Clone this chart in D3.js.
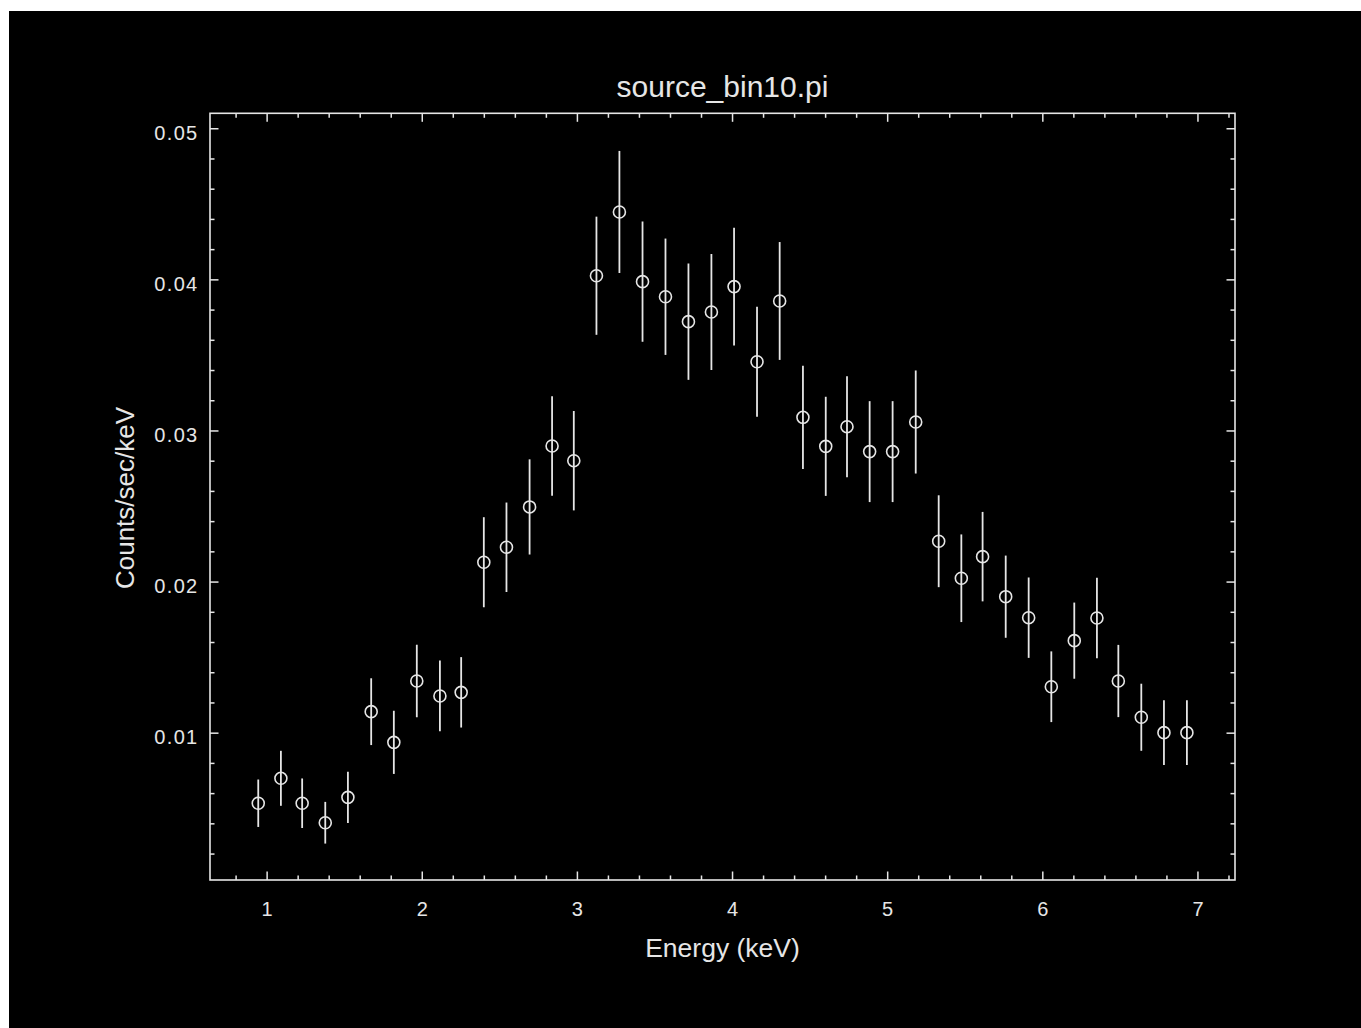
<!DOCTYPE html>
<html>
<head>
<meta charset="utf-8">
<script src="https://cdn.jsdelivr.net/npm/d3@7"></script>
<style>
  html, body { margin: 0; padding: 0; background: #ffffff; }
  svg { display: block; }
  text { font-family: "Liberation Sans", Arial, Helvetica, sans-serif; fill: #e6e6e6; }
</style>
</head>
<body>
<svg id="chart" width="1361" height="1028"></svg>
<script>
// ---- data ----
const titleText = "source_bin10.pi";
const xLabelText = "Energy (keV)";
const yLabelText = "Counts/sec/keV";

const energy = [0.946, 1.092, 1.229, 1.378, 1.524, 1.674, 1.820, 1.968, 2.117, 2.254,
                2.400, 2.546, 2.695, 2.840, 2.980, 3.126, 3.274, 3.423, 3.571, 3.719,
                3.867, 4.013, 4.161, 4.307, 4.457, 4.604, 4.741, 4.887, 5.035, 5.184,
                5.332, 5.478, 5.615, 5.764, 5.912, 6.058, 6.206, 6.352, 6.490, 6.638,
                6.784, 6.932];
const rate = [0.00533, 0.00698, 0.00533, 0.00404, 0.00572, 0.01139, 0.00936, 0.01342, 0.01243, 0.01267,
              0.02128, 0.02227, 0.02494, 0.02897, 0.02800, 0.04024, 0.04446, 0.03985, 0.03885, 0.03720,
              0.03784, 0.03952, 0.03455, 0.03857, 0.03087, 0.02895, 0.03025, 0.02860, 0.02860, 0.03056,
              0.02267, 0.02022, 0.02165, 0.01900, 0.01761, 0.01304, 0.01609, 0.01759, 0.01342, 0.01102,
              0.01000, 0.01000];
const rateErr = [0.00157, 0.00182, 0.00164, 0.00138, 0.00169, 0.00221, 0.00209, 0.00240, 0.00234, 0.00233,
                 0.00298, 0.00296, 0.00315, 0.00329, 0.00329, 0.00391, 0.00404, 0.00398, 0.00385, 0.00385,
                 0.00384, 0.00390, 0.00364, 0.00390, 0.00342, 0.00328, 0.00334, 0.00334, 0.00334, 0.00341,
                 0.00304, 0.00290, 0.00296, 0.00272, 0.00266, 0.00234, 0.00252, 0.00266, 0.00239, 0.00222,
                 0.00214, 0.00214];

const xDomain = [0.635, 7.242];
const yDomain = [0.00025, 0.05099];
const xMajorTicks = [1, 2, 3, 4, 5, 6, 7];
const xMinorStep = 0.2;
const yMajorTicks = [0.01, 0.02, 0.03, 0.04, 0.05];
const yMinorStep = 0.002;

// ---- layout ----
const W = 1361, H = 1028;
const frame = { left: 210, right: 1235, top: 113.3, bottom: 880 };
const fg = "#e6e6e6";

const svg = d3.select("#chart");
svg.append("rect").attr("x", 9).attr("y", 11).attr("width", W - 9).attr("height", H - 11).attr("fill", "#000");

const x = d3.scaleLinear().domain(xDomain).range([frame.left, frame.right]);
const y = d3.scaleLinear().domain(yDomain).range([frame.bottom, frame.top]);

const eps = 1e-9;
const xMinor = d3.range(Math.ceil(xDomain[0] / xMinorStep) * xMinorStep, xDomain[1] + eps, xMinorStep)
  .filter(v => xMajorTicks.every(m => Math.abs(m - v) > 1e-6));
const yMinor = d3.range(Math.ceil(yDomain[0] / yMinorStep) * yMinorStep, yDomain[1] + eps, yMinorStep)
  .filter(v => yMajorTicks.every(m => Math.abs(m - v) > 1e-7));

function styleAxis(g) {
  g.select(".domain").remove();
  g.selectAll(".tick line").attr("stroke", fg).attr("stroke-width", 1.5);
  g.selectAll(".tick text").attr("fill", fg).attr("font-family", "Liberation Sans, Arial, sans-serif");
}

const majLen = 8.5, minLen = 4.5;

// bottom
svg.append("g").attr("transform", `translate(0,${frame.bottom})`)
  .call(d3.axisBottom(x).tickValues(xMajorTicks).tickSize(-majLen).tickPadding(21.5).tickFormat(d3.format("d")))
  .call(styleAxis)
  .call(g => g.selectAll(".tick text").attr("font-size", 20));
svg.append("g").attr("transform", `translate(0,${frame.bottom})`)
  .call(d3.axisBottom(x).tickValues(xMinor).tickSize(-minLen).tickFormat(""))
  .call(styleAxis);
// top
svg.append("g").attr("transform", `translate(0,${frame.top})`)
  .call(d3.axisTop(x).tickValues(xMajorTicks).tickSize(-majLen).tickFormat(""))
  .call(styleAxis);
svg.append("g").attr("transform", `translate(0,${frame.top})`)
  .call(d3.axisTop(x).tickValues(xMinor).tickSize(-minLen).tickFormat(""))
  .call(styleAxis);
// left
svg.append("g").attr("transform", `translate(${frame.left},0)`)
  .call(d3.axisLeft(y).tickValues(yMajorTicks).tickSize(-majLen).tickPadding(11.5).tickFormat(d3.format(".2f")))
  .call(styleAxis)
  .call(g => g.selectAll(".tick text").attr("font-size", 20).attr("letter-spacing", "1.3px").attr("dy", "0.55em"));
svg.append("g").attr("transform", `translate(${frame.left},0)`)
  .call(d3.axisLeft(y).tickValues(yMinor).tickSize(-minLen).tickFormat(""))
  .call(styleAxis);
// right
svg.append("g").attr("transform", `translate(${frame.right},0)`)
  .call(d3.axisRight(y).tickValues(yMajorTicks).tickSize(-majLen).tickFormat(""))
  .call(styleAxis);
svg.append("g").attr("transform", `translate(${frame.right},0)`)
  .call(d3.axisRight(y).tickValues(yMinor).tickSize(-minLen).tickFormat(""))
  .call(styleAxis);

// frame
svg.append("rect")
  .attr("x", frame.left).attr("y", frame.top)
  .attr("width", frame.right - frame.left).attr("height", frame.bottom - frame.top)
  .attr("fill", "none").attr("stroke", fg).attr("stroke-width", 1.6);

// data
const pts = energy.map((e, i) => ({ e, r: rate[i], s: rateErr[i] }));
const gData = svg.append("g");
gData.selectAll("line.err").data(pts).join("line")
  .attr("class", "err")
  .attr("x1", d => x(d.e)).attr("x2", d => x(d.e))
  .attr("y1", d => y(d.r + d.s)).attr("y2", d => y(d.r - d.s))
  .attr("stroke", fg).attr("stroke-width", 1.8);
gData.selectAll("circle.pt").data(pts).join("circle")
  .attr("class", "pt")
  .attr("cx", d => x(d.e)).attr("cy", d => y(d.r))
  .attr("r", 6)
  .attr("fill", "none").attr("stroke", fg).attr("stroke-width", 1.6);

// labels
const cx = (frame.left + frame.right) / 2;
svg.append("text").attr("x", cx).attr("y", 97).attr("text-anchor", "middle")
  .attr("font-size", 30).text(titleText);
svg.append("text").attr("x", cx).attr("y", 957).attr("text-anchor", "middle")
  .attr("font-size", 26.5).text(xLabelText);
svg.append("text").attr("transform", `translate(133.5,${498}) rotate(-90)`).attr("text-anchor", "middle")
  .attr("font-size", 26).text(yLabelText);
</script>
</body>
</html>
